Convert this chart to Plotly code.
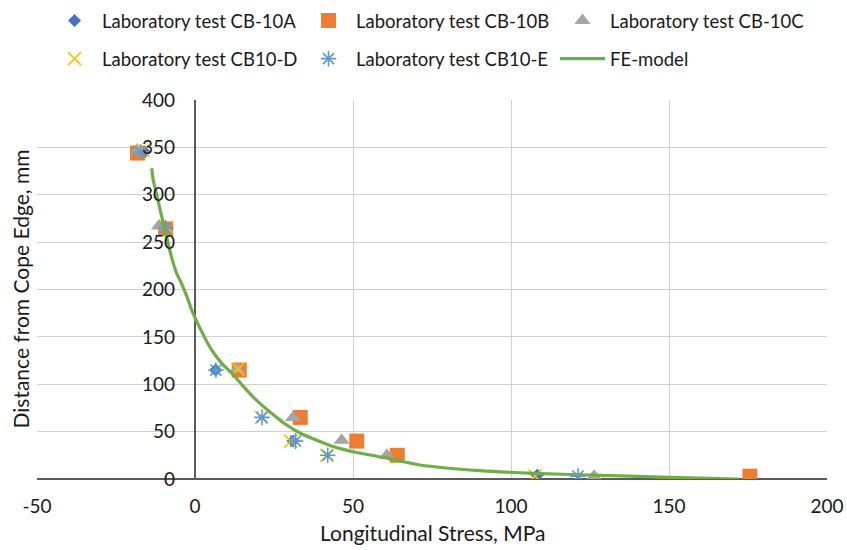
import plotly.graph_objects as go

# ---------------- data ----------------
a_x = [-16.0, -9.5, 6.5, 31.0, 108.3]
a_y = [345, 265, 115, 40, 4]

b_x = [-18.2, -9.3, 14.0, 33.3, 51.2, 64.0, 175.6]
b_y = [344, 264, 115, 65, 40, 25, 3]

c_x = [-18.3, -11.4, 13.3, 31.0, 46.4, 60.7, 126.3]
c_y = [347, 267, 116, 65, 41, 25, 3]

d_x = [-16.4, -9.0, 13.6, 21.0, 30.3, 41.7, 107.6]
d_y = [347, 266, 116, 65, 40, 25, 3]

e_x = [-17.2, -9.3, 6.6, 21.2, 31.8, 42.0, 121.2]
e_y = [345, 265, 115, 65, 40, 25, 3]

fe_x = [-13.7, -13.2, -12.1, -10.6, -9.0, -7.5, -5.8, -4.2, -2.5, -1.0, 1.6, 5.3,
        8.5, 12.1, 15.5, 19.5, 24.0, 29.0, 33.5, 38.5, 44.0, 50.0, 59.6, 71.2,
        90.2, 107.0, 125.0, 150.0, 172.0]
fe_y = [328, 315, 300, 278, 256, 235, 217, 206, 192, 178, 159, 136,
        122, 110, 97, 83, 70, 57, 48, 41, 34, 28.8, 22.8, 14.8,
        8.8, 6.0, 4.2, 1.8, 0.0]

x_ticks = [-50, 0, 50, 100, 150, 200]
x_ticktext = ["-50", "0", "50", "100", "150", "200"]
y_ticks = [0, 50, 100, 150, 200, 250, 300, 350, 400]

names = ["Laboratory test CB-10A", "Laboratory test CB-10B", "Laboratory test CB-10C",
         "Laboratory test CB10-D", "Laboratory test CB10-E", "FE-model"]

# ---------------- style ----------------
FONT = "Lato"
TXT = "#1a1a1a"
GRID = "#D0D0D0"
AXIS = "#5a5a5a"

fig = go.Figure()
fig.add_trace(go.Scatter(x=a_x, y=a_y, mode="markers", name=names[0], legend="legend",
                         marker=dict(symbol="diamond", size=10, color="#4472C4")))
fig.add_trace(go.Scatter(x=b_x, y=b_y, mode="markers", name=names[1], legend="legend",
                         marker=dict(symbol="square", size=15, color="#ED7D31")))
fig.add_trace(go.Scatter(x=c_x, y=c_y, mode="markers", name=names[2], legend="legend",
                         marker=dict(symbol="triangle-up", size=14, color="#A5A5A5")))
fig.add_trace(go.Scatter(x=d_x, y=d_y, mode="markers", name=names[3], legend="legend2",
                         marker=dict(symbol="x-thin-open", size=13, color="#FFC000",
                                     line=dict(width=1.6, color="#FFC000"))))
fig.add_trace(go.Scatter(x=e_x, y=e_y, mode="markers", name=names[4], legend="legend2",
                         marker=dict(symbol="asterisk-open", size=13, color="#5B9BD5",
                                     line=dict(width=1.6, color="#5B9BD5"))))
fig.add_trace(go.Scatter(x=fe_x, y=fe_y, mode="lines", name=names[5], legend="legend2",
                         line=dict(color="#70AD47", width=3.2, shape="spline", smoothing=0.6)))

leg_common = dict(orientation="h", xanchor="left", yanchor="top",
                  font=dict(family=FONT, size=18.5, color=TXT),
                  entrywidth=194, entrywidthmode="pixels",
                  bgcolor="rgba(0,0,0,0)", itemwidth=45)

fig.update_layout(
    width=847, height=550,
    margin=dict(l=37, r=20, t=100, b=71, autoexpand=False),
    paper_bgcolor="white", plot_bgcolor="white",
    font=dict(family=FONT, size=18, color=TXT),
    legend=dict(x=0.0127, y=1.2586, **leg_common),
    legend2=dict(x=0.0127, y=1.158, **leg_common),
    xaxis=dict(range=[-50, 200], tickvals=x_ticks, ticktext=x_ticktext,
               showgrid=True, gridcolor=GRID, gridwidth=1,
               zeroline=True, zerolinecolor=AXIS, zerolinewidth=1.5,
               showline=False, ticks="", ticklabelstandoff=14,
               tickfont=dict(family=FONT, size=19, color=TXT), domain=[0, 1]),
    yaxis=dict(range=[0, 400], tickvals=y_ticks, showgrid=True, gridcolor=GRID, gridwidth=1,
               zeroline=True, zerolinecolor=AXIS, zerolinewidth=1.5,
               showline=False, ticks="", anchor="free", position=0.2,
               ticklabelstandoff=20,
               tickfont=dict(family=FONT, size=19, color=TXT)),
    annotations=[
        dict(text="Distance from Cope Edge, mm", xref="paper", yref="paper",
             x=-0.0215, y=0.5, xanchor="center", yanchor="middle", textangle=-90,
             showarrow=False, font=dict(family=FONT, size=21, color=TXT)),
        dict(text="Longitudinal Stress, MPa", xref="paper", yref="paper",
             x=0.5, y=(479 - 532) / 379, xanchor="center", yanchor="middle",
             showarrow=False, font=dict(family=FONT, size=21, color=TXT)),
    ],
)

fig.write_html(
    "out.html",
    config={"displayModeBar": False},
    post_script="document.documentElement.style.overflow='hidden';"
                "document.body.style.margin='0';document.body.style.overflow='hidden';",
)
